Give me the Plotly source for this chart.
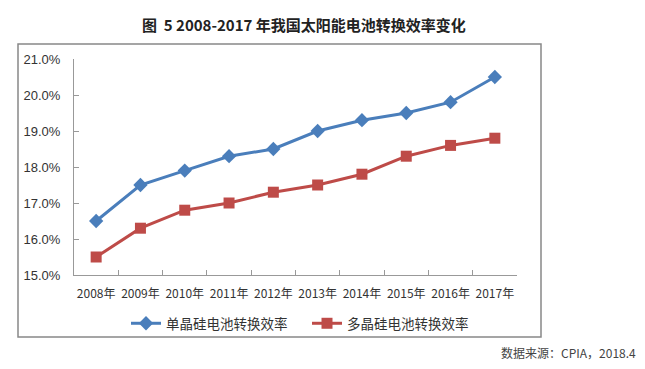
import plotly.graph_objects as go

years = ["2008年", "2009年", "2010年", "2011年", "2012年", "2013年", "2014年", "2015年", "2016年", "2017年"]
mono = [16.5, 17.5, 17.9, 18.3, 18.5, 19.0, 19.3, 19.5, 19.8, 20.5]
poly = [15.5, 16.3, 16.8, 17.0, 17.3, 17.5, 17.8, 18.3, 18.6, 18.8]
mono_name = "单晶硅电池转换效率"
poly_name = "多晶硅电池转换效率"
title_text = "图  5 2008-2017 年我国太阳能电池转换效率变化"
source_text = "数据来源：CPIA，2018.4"

# page body has an 8px margin; work in screen pixels and shift
OFF = 8
W, H = 645 - OFF, 369 - OFF
L, R, T, B = 74 - OFF, 517 - OFF, 59 - OFF, 275 - OFF

def px(x):
    return (x - OFF - L) / (R - L)

def py(y):
    return (B - (y - OFF)) / (B - T)

font_cjk = "Noto Sans CJK SC"

fig = go.Figure()
fig.add_trace(go.Scatter(x=years, y=mono, name=mono_name, mode="lines+markers",
                         line=dict(color="#4A7EBB", width=3),
                         marker=dict(symbol="diamond", size=11, color="#4A7EBB")))
fig.add_trace(go.Scatter(x=years, y=poly, name=poly_name, mode="lines+markers",
                         line=dict(color="#BE4B48", width=3),
                         marker=dict(symbol="square", size=11, color="#BE4B48")))

fig.update_layout(
    width=W, height=H,
    margin=dict(l=L, r=W - R, t=T, b=H - B, autoexpand=False),
    paper_bgcolor="white", plot_bgcolor="white",
    showlegend=True,
    legend=dict(orientation="h", x=px(126), y=py(308), xanchor="left", yanchor="top",
                font=dict(family=font_cjk, size=13.5, color="#333"),
                bgcolor="rgba(0,0,0,0)", itemwidth=30, tracegroupgap=0,
                entrywidth=136, entrywidthmode="pixels"),
    font=dict(family="Liberation Sans", size=12, color="#333"),
    xaxis=dict(type="category", range=[-0.5, 9.5], showgrid=False, automargin=False,
               showline=True, linecolor="#999", linewidth=1, tickangle=0,
               ticks="inside", tickson="boundaries", ticklen=5, tickcolor="#999",
               ticklabelstandoff=8,
               tickfont=dict(family=font_cjk, size=12, color="#333")),
    yaxis=dict(range=[15, 21], dtick=1, tickformat=".1f", ticksuffix="%", automargin=False,
               showgrid=False, showline=True, linecolor="#999", linewidth=1,
               ticks="inside", ticklen=5, tickcolor="#999", ticklabelstandoff=10,
               tickfont=dict(family="Liberation Sans", size=13, color="#333")),
    shapes=[dict(type="rect", xref="paper", yref="paper",
                 x0=px(18), x1=px(541), y0=py(337), y1=py(44),
                 line=dict(color="#888", width=1.5), fillcolor="rgba(0,0,0,0)", layer="below")],
    annotations=[
        dict(text="<b>" + title_text + "</b>", xref="paper", yref="paper",
             x=px(304), y=py(24), xanchor="center", yanchor="middle", showarrow=False,
             font=dict(family=font_cjk, size=15, color="#222")),
        dict(text=source_text, xref="paper", yref="paper",
             x=px(638), y=py(352), xanchor="right", yanchor="middle", showarrow=False,
             font=dict(family=font_cjk, size=12, color="#444")),
    ],
)

fig.write_html("out.html")
